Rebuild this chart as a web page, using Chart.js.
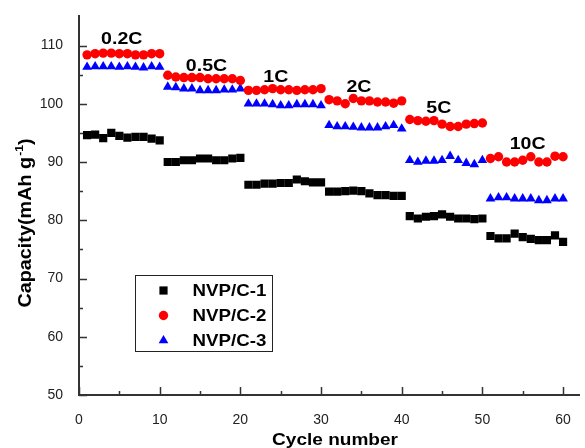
<!DOCTYPE html>
<html>
<head>
<meta charset="utf-8">
<title>Rate capability</title>
<script src="https://cdn.jsdelivr.net/npm/chart.js@4.4.1/dist/chart.umd.min.js"></script>
<style>
  html, body { margin: 0; padding: 0; background: #fff; }
</style>
</head>
<body>
<canvas id="rateChart" width="585" height="448"></canvas>
<script>
// Data
const cycles = [
  1, 2, 3, 4, 5, 6, 7, 8, 9, 10,
  11, 12, 13, 14, 15, 16, 17, 18, 19, 20,
  21, 22, 23, 24, 25, 26, 27, 28, 29, 30,
  31, 32, 33, 34, 35, 36, 37, 38, 39, 40,
  41, 42, 43, 44, 45, 46, 47, 48, 49, 50,
  51, 52, 53, 54, 55, 56, 57, 58, 59, 60
];

const nvpC1 = [
  94.6, 94.7, 94.1, 95.0, 94.5, 94.2, 94.3, 94.3, 94.0, 93.7,
  90.0, 90.0, 90.3, 90.3, 90.6, 90.6, 90.3, 90.3, 90.6, 90.7,
  86.1, 86.1, 86.3, 86.3, 86.4, 86.4, 87.0, 86.7, 86.5, 86.5,
  84.9, 84.9, 85.0, 85.1, 85.0, 84.6, 84.3, 84.3, 84.2, 84.2,
  80.7, 80.3, 80.6, 80.7, 81.0, 80.6, 80.3, 80.3, 80.2, 80.3,
  77.3, 76.9, 76.9, 77.7, 77.1, 76.8, 76.6, 76.6, 77.4, 76.3
];

const nvpC2 = [
  108.4, 108.6, 108.7, 108.7, 108.6, 108.6, 108.4, 108.4, 108.6, 108.6,
  104.9, 104.6, 104.5, 104.5, 104.5, 104.3, 104.3, 104.3, 104.3, 104.0,
  102.3, 102.3, 102.4, 102.6, 102.4, 102.4, 102.3, 102.4, 102.4, 102.6,
  100.7, 100.5, 100.0, 100.9, 100.5, 100.5, 100.3, 100.3, 100.1, 100.5,
  97.3, 97.1, 97.0, 97.1, 96.5, 96.1, 96.1, 96.5, 96.6, 96.7,
  90.6, 90.9, 90.0, 90.0, 90.3, 90.9, 90.0, 90.0, 91.0, 90.9
];

const nvpC3 = [
  106.3, 106.4, 106.4, 106.4, 106.3, 106.4, 106.3, 106.2, 106.4, 106.3,
  102.9, 102.8, 102.6, 102.6, 102.3, 102.3, 102.3, 102.4, 102.4, 102.6,
  100.0, 100.0, 100.0, 99.9, 99.7, 99.7, 99.9, 99.9, 99.9, 99.7,
  96.3, 96.1, 96.1, 96.0, 95.9, 95.9, 95.9, 96.1, 96.3, 95.7,
  90.3, 90.0, 90.2, 90.2, 90.3, 91.0, 90.3, 89.8, 89.6, 90.3,
  83.7, 83.9, 83.9, 83.7, 83.7, 83.7, 83.4, 83.4, 83.7, 83.7
];

const seriesNames = [`NVP/C-1`, `NVP/C-2`, `NVP/C-3`];

const xTicks = [0, 10, 20, 30, 40, 50, 60];
const xMinorTicks = [5, 15, 25, 35, 45, 55];
const yTicks = [50, 60, 70, 80, 90, 100, 110];
const yMinorTicks = [55, 65, 75, 85, 95, 105];

// Rate labels, anchored in data coordinates (text baseline)
const rateLabels = [`0.2C`, `0.5C`, `1C`, `2C`, `5C`, `10C`];
const rateLabelX = [5.3, 15.8, 24.4, 34.7, 44.6, 55.6];
const rateLabelY = [110.2, 105.6, 103.8, 102.1, 98.5, 92.2];

const toPoints = values => values.map((v, i) => ({ x: cycles[i], y: v }));

// Stretched text helper (the original font is a bit wider than Arial)
const stretchText = (ctx, text, x, y, sx, align) => {
  ctx.save();
  ctx.translate(x, y);
  ctx.scale(sx, 1);
  ctx.textAlign = align;
  ctx.fillText(text, 0, 0);
  ctx.restore();
};

// Tick marks pointing into the plot
const tickPlugin = {
  id: `innerTicks`,
  afterDatasetsDraw(chart) {
    const { ctx, chartArea, scales: { x, y } } = chart;
    ctx.save();
    ctx.strokeStyle = `#333`;
    ctx.lineWidth = 1.5;
    ctx.beginPath();
    xTicks.forEach(v => {
      const px = Math.round(x.getPixelForValue(v)) + 0.5;
      ctx.moveTo(px, chartArea.bottom);
      ctx.lineTo(px, chartArea.bottom - 8);
    });
    xMinorTicks.forEach(v => {
      const px = Math.round(x.getPixelForValue(v)) + 0.5;
      ctx.moveTo(px, chartArea.bottom);
      ctx.lineTo(px, chartArea.bottom - 4);
    });
    yTicks.forEach(v => {
      const py = Math.round(y.getPixelForValue(v)) + 0.5;
      ctx.moveTo(chartArea.left, py);
      ctx.lineTo(chartArea.left + 8, py);
    });
    yMinorTicks.forEach(v => {
      const py = Math.round(y.getPixelForValue(v)) + 0.5;
      ctx.moveTo(chartArea.left, py);
      ctx.lineTo(chartArea.left + 4, py);
    });
    ctx.stroke();
    ctx.restore();
  }
};

// Rate labels, legend box and axis titles
const decorPlugin = {
  id: `decor`,
  afterDraw(chart) {
    const { ctx, scales: { x, y } } = chart;
    ctx.save();
    ctx.fillStyle = `#000`;
    ctx.textBaseline = `alphabetic`;

    // rate labels
    ctx.font = `bold 17px "Liberation Sans", Arial, sans-serif`;
    rateLabels.forEach((label, i) => {
      stretchText(ctx, label, x.getPixelForValue(rateLabelX[i]), y.getPixelForValue(rateLabelY[i]), 1.15, `center`);
    });

    // legend box
    ctx.strokeStyle = `#222`;
    ctx.lineWidth = 1;
    ctx.strokeRect(135.5, 275.5, 137, 76);
    ctx.font = `bold 17px "Liberation Sans", Arial, sans-serif`;
    const rows = [290.5, 315.5, 340.5];
    chart.data.datasets.forEach((ds, i) => {
      ctx.fillStyle = ds.backgroundColor;
      Chart.helpers.drawPoint(ctx, {
        pointStyle: ds.pointStyle,
        radius: ds.pointRadius,
        rotation: 0,
        borderWidth: 0
      }, 163.5, rows[i]);
      ctx.fillStyle = `#000`;
      ctx.textBaseline = `middle`;
      stretchText(ctx, ds.label, 192.5, rows[i] + 1, 1.1, `left`);
    });

    // x title
    ctx.textBaseline = `alphabetic`;
    ctx.font = `bold 17px "Liberation Sans", Arial, sans-serif`;
    stretchText(ctx, `Cycle number`, 335, 445, 1.12, `center`);

    // y title, rotated, with superscript -1
    ctx.save();
    ctx.translate(31, 223);
    ctx.rotate(-Math.PI / 2);
    ctx.scale(1.1, 1);
    const mainFont = `bold 18px "Liberation Sans", Arial, sans-serif`;
    const supFont = `bold 11px "Liberation Sans", Arial, sans-serif`;
    ctx.font = mainFont;
    const partA = `Capacity(mAh g`;
    const wA = ctx.measureText(partA).width;
    const wC = ctx.measureText(`)`).width;
    ctx.font = supFont;
    const wB = ctx.measureText(`-1`).width + 1;
    let cx = -(wA + wB + wC) / 2;
    ctx.textAlign = `left`;
    ctx.font = mainFont;
    ctx.fillText(partA, cx, 0);
    cx += wA;
    ctx.font = supFont;
    ctx.fillText(`-1`, cx + 1, -8);
    cx += wB;
    ctx.font = mainFont;
    ctx.fillText(`)`, cx, 0);
    ctx.restore();

    ctx.restore();
  }
};

const tickFont = { family: `"Liberation Sans", Arial, sans-serif`, size: 14 };

const rateChart = new Chart(document.getElementById(`rateChart`), {
  type: `scatter`,
  data: {
    datasets: [
      {
        label: seriesNames[0],
        data: toPoints(nvpC1),
        pointStyle: `rect`,
        pointRadius: 5.8,
        backgroundColor: `#000000`,
        borderWidth: 0
      },
      {
        label: seriesNames[1],
        data: toPoints(nvpC2),
        pointStyle: `circle`,
        pointRadius: 4.7,
        backgroundColor: `#ff0000`,
        borderWidth: 0
      },
      {
        label: seriesNames[2],
        data: toPoints(nvpC3),
        pointStyle: `triangle`,
        pointRadius: 5.6,
        backgroundColor: `#0000ff`,
        borderWidth: 0
      }
    ]
  },
  options: {
    responsive: false,
    animation: false,
    devicePixelRatio: 1,
    layout: { padding: { top: 16, right: 0, left: 0, bottom: 0 } },
    plugins: {
      legend: { display: false },
      tooltip: { enabled: false }
    },
    elements: { point: { hoverRadius: 5 } },
    scales: {
      x: {
        type: `linear`,
        min: 0,
        max: 62,
        grid: { display: false },
        border: { display: true, color: `#333`, width: 2 },
        ticks: {
          stepSize: 10,
          includeBounds: false,
          color: `#222`,
          font: tickFont,
          padding: 9,
          maxRotation: 0
        },
        afterFit: scale => { scale.height = 53; }
      },
      y: {
        type: `linear`,
        min: 50,
        max: 115,
        grid: { display: false },
        border: { display: true, color: `#333`, width: 2 },
        ticks: {
          stepSize: 10,
          includeBounds: false,
          color: `#222`,
          font: tickFont,
          padding: 8
        },
        afterFit: scale => { scale.width = 79; }
      }
    }
  },
  plugins: [tickPlugin, decorPlugin]
});
</script>
</body>
</html>
